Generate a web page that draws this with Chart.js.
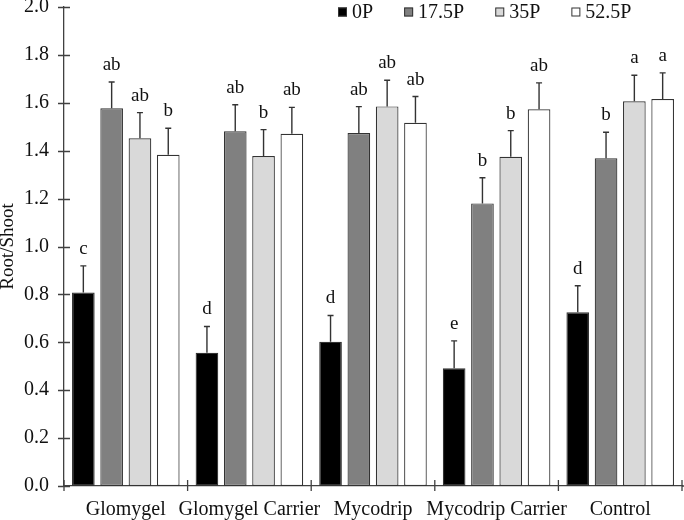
<!DOCTYPE html>
<html>
<head>
<meta charset="utf-8">
<script src="https://cdn.jsdelivr.net/npm/chart.js@4/dist/chart.umd.min.js"></script>
<style>
html,body{margin:0;padding:0;background:#fff;}
#wrap{width:684px;height:520px;}
</style>
</head>
<body>
<div id="wrap"><canvas id="c" width="684" height="520"></canvas></div>
<script>
const categories = ['Glomygel', 'Glomygel Carrier', 'Mycodrip', 'Mycodrip Carrier', 'Control'];
const seriesNames = ['0P', '17.5P', '35P', '52.5P'];
const values0P   = [0.808, 0.556, 0.602, 0.492, 0.725];
const values175P = [1.577, 1.481, 1.474, 1.180, 1.368];
const values35P  = [1.452, 1.378, 1.585, 1.375, 1.606];
const values525P = [1.383, 1.471, 1.517, 1.573, 1.616];
const err0P   = [0.111, 0.110, 0.110, 0.114, 0.111];
const err175P = [0.110, 0.111, 0.110, 0.107, 0.109];
const err35P  = [0.107, 0.110, 0.109, 0.109, 0.109];
const err525P = [0.111, 0.110, 0.109, 0.110, 0.109];
const letters0P   = ['c', 'd', 'd', 'e', 'd'];
const letters175P = ['ab', 'ab', 'ab', 'b', 'b'];
const letters35P  = ['ab', 'b', 'ab', 'b', 'a'];
const letters525P = ['b', 'ab', 'ab', 'ab', 'a'];
const yTicks = [0, 0.2, 0.4, 0.6, 0.8, 1.0, 1.2, 1.4, 1.6, 1.8, 2.0];

const FONT = '"Liberation Serif", "Times New Roman", serif';
const AXIS = '#404040';
const EDGE = '#333333';
const fills = ['#000000', '#808080', '#d9d9d9', '#ffffff'];
const allValues = [values0P, values175P, values35P, values525P];
const allErr = [err0P, err175P, err35P, err525P];
const allLetters = [letters0P, letters175P, letters35P, letters525P];

const datasets = seriesNames.map((name, i) => ({
  label: name,
  data: allValues[i],
  errors: allErr[i],
  letters: allLetters[i],
  backgroundColor: fills[i],
  borderColor: EDGE,
  borderWidth: 1.2,
  borderSkipped: false,
  categoryPercentage: 0.916,
  barPercentage: 0.8
}));

const decor = {
  id: 'decor',
  afterDatasetsDraw(chart) {
    const ctx = chart.ctx;
    const y = chart.scales.y;
    ctx.save();
    chart.data.datasets.forEach((ds, di) => {
      const meta = chart.getDatasetMeta(di);
      meta.data.forEach((bar, i) => {
        const top = y.getPixelForValue(ds.data[i] + ds.errors[i]);
        ctx.strokeStyle = EDGE;
        ctx.lineWidth = 1.4;
        ctx.beginPath();
        ctx.moveTo(bar.x, bar.y);
        ctx.lineTo(bar.x, top);
        ctx.moveTo(bar.x - 3, top);
        ctx.lineTo(bar.x + 3, top);
        ctx.stroke();
        ctx.fillStyle = '#111';
        ctx.font = '19px ' + FONT;
        ctx.textAlign = 'center';
        ctx.textBaseline = 'alphabetic';
        ctx.fillText(ds.letters[i], bar.x, top - 12);
      });
    });
    ctx.restore();
  },
  afterDraw(chart) {
    const ctx = chart.ctx;
    const {left, right, bottom} = chart.chartArea;
    const ys = chart.scales.y, xs = chart.scales.x;
    ctx.save();
    ctx.strokeStyle = AXIS;
    ctx.lineWidth = 1.3;
    ctx.beginPath();
    yTicks.forEach(v => {
      const p = Math.round(ys.getPixelForValue(v)) + 0.5;
      ctx.moveTo(left - 6, p);
      ctx.lineTo(left + 6, p);
    });
    const n = chart.data.labels.length;
    const step = xs.getPixelForValue(1) - xs.getPixelForValue(0);
    for (let k = 0; k <= n; k++) {
      const p = k < n ? xs.getPixelForValue(k) - step / 2 : xs.getPixelForValue(n - 1) + step / 2;
      ctx.moveTo(p, bottom - 6);
      ctx.lineTo(p, bottom + 5);
    }
    ctx.moveTo(right, bottom);
    ctx.lineTo(684, bottom);
    ctx.stroke();
    // legend
    let x = 338;
    const ly = 12;
    ctx.font = '20px ' + FONT;
    ctx.textBaseline = 'middle';
    ctx.textAlign = 'left';
    chart.data.datasets.forEach((ds) => {
      ctx.fillStyle = ds.backgroundColor;
      ctx.fillRect(x, ly - 4.5, 9, 9);
      ctx.strokeStyle = EDGE;
      ctx.lineWidth = 1;
      ctx.strokeRect(x + 0.5, ly - 4, 8, 8);
      ctx.fillStyle = '#111';
      ctx.fillText(ds.label, x + 14, ly + 1);
      x += 14 + ctx.measureText(ds.label).width + 31;
    });
    ctx.restore();
  }
};

new Chart(document.getElementById('c'), {
  type: 'bar',
  data: { labels: categories, datasets },
  options: {
    responsive: false,
    animation: false,
    layout: { padding: { top: 7, right: 2, left: 0, bottom: 0 } },
    plugins: { legend: { display: false }, tooltip: { enabled: false } },
    scales: {
      x: {
        grid: { display: false, drawTicks: false, offset: true },
        border: { display: true, color: AXIS, width: 1.3 },
        ticks: { color: '#111', font: { family: FONT, size: 20 }, padding: 12, maxRotation: 0, autoSkip: false },
        afterFit(s) { s.paddingLeft = 0; s.paddingRight = 0; s.height = 34; }
      },
      y: {
        min: 0, max: 2.0,
        afterBuildTicks(s) { s.ticks = yTicks.map(v => ({ value: v })); },
        grid: { display: false, drawTicks: false },
        border: { display: true, color: AXIS, width: 1.3 },
        ticks: { color: '#111', font: { family: FONT, size: 20 }, padding: 15, callback: v => Number(v).toFixed(1) },
        title: { display: true, text: 'Root/Shoot', color: '#111', font: { family: FONT, size: 19, lineHeight: 0.8 }, padding: 0 },
        afterFit(s) { s.width = 64; s.paddingTop = 0; s.paddingBottom = 0; }
      }
    }
  },
  plugins: [decor]
});
</script>
</body>
</html>
